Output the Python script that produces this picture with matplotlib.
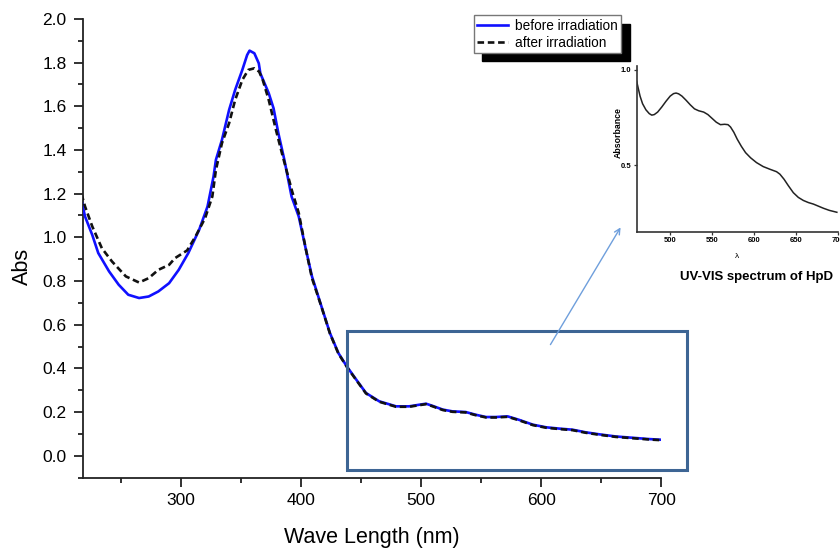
import matplotlib
matplotlib.use("Agg")
import matplotlib.pyplot as plt
from matplotlib.patches import Rectangle, FancyArrowPatch

plt.rcParams['font.family'] = ['Liberation Sans', 'DejaVu Sans']

# ---- data ----
wl_before = [217, 220, 226, 231, 240, 248, 256, 265, 273, 281, 290, 298, 306, 315,
             322, 327, 329, 334, 340, 345, 351, 355, 357, 361, 364.7, 366, 373, 377,
             381, 386, 392, 398, 404, 409, 416, 424, 431, 438, 445, 454, 465, 479,
             490, 498, 504, 509, 518, 526, 537, 545, 554, 562, 572, 581, 593, 604,
             615, 626, 637, 648, 662, 676, 690, 700]
abs_before = [1.170, 1.095, 1.011, 0.928, 0.844, 0.783, 0.737, 0.722, 0.729, 0.752,
              0.790, 0.851, 0.928, 1.034, 1.141, 1.278, 1.355, 1.446, 1.584, 1.675,
              1.767, 1.835, 1.855, 1.843, 1.797, 1.751, 1.660, 1.591, 1.477, 1.355,
              1.187, 1.095, 0.943, 0.821, 0.699, 0.561, 0.470, 0.409, 0.355, 0.287,
              0.249, 0.226, 0.226, 0.233, 0.238, 0.229, 0.211, 0.203, 0.200, 0.188,
              0.177, 0.177, 0.180, 0.165, 0.142, 0.130, 0.124, 0.119, 0.107, 0.098,
              0.088, 0.082, 0.076, 0.073]

wl_after = [217, 220, 226, 234, 242.5, 254, 265, 273, 281, 290, 295, 305, 312, 320,
            326, 329, 334, 340, 345, 351, 356, 361, 365, 368, 373, 379, 384, 392.5,
            398, 404, 409, 416, 424, 431, 438, 445, 454, 465, 479, 490, 498, 504,
            509, 518, 526, 537, 545, 554, 562, 572, 581, 593, 604, 615, 626, 637,
            648, 662, 676, 690, 700]
abs_after = [1.199, 1.141, 1.050, 0.950, 0.889, 0.821, 0.793, 0.813, 0.851, 0.874,
             0.905, 0.940, 1.004, 1.088, 1.187, 1.309, 1.431, 1.523, 1.629, 1.721,
             1.767, 1.774, 1.759, 1.721, 1.629, 1.492, 1.385, 1.210, 1.111, 0.943,
             0.813, 0.697, 0.559, 0.468, 0.407, 0.353, 0.285, 0.247, 0.224, 0.224,
             0.231, 0.236, 0.227, 0.209, 0.201, 0.198, 0.186, 0.175, 0.175, 0.178,
             0.163, 0.140, 0.128, 0.122, 0.117, 0.105, 0.096, 0.086, 0.080, 0.074,
             0.071]

wl_inset = [460, 462, 464, 467, 471, 475, 478, 481, 485, 490, 495, 500, 504, 507,
            510, 514, 519, 524, 529, 534, 540, 545, 550, 555, 560, 565, 569, 572,
            576, 580, 585, 590, 596, 603, 611, 619, 627, 631, 636, 641, 647, 653,
            659, 665, 671, 677, 683, 690, 699]
abs_inset = [0.939, 0.900, 0.862, 0.822, 0.790, 0.770, 0.762, 0.765, 0.778, 0.805,
             0.835, 0.862, 0.875, 0.878, 0.874, 0.862, 0.840, 0.816, 0.795, 0.785,
             0.778, 0.765, 0.745, 0.725, 0.712, 0.714, 0.712, 0.700, 0.672, 0.636,
             0.598, 0.565, 0.538, 0.513, 0.492, 0.478, 0.465, 0.452, 0.425, 0.392,
             0.355, 0.330, 0.314, 0.303, 0.295, 0.284, 0.273, 0.262, 0.252]

series_labels = ["before irradiation", "after irradiation"]
inset_title = "UV-VIS spectrum of HpD"

# ---- figure ----
fig = plt.figure(figsize=(8.4, 5.5), dpi=100)
ax = fig.add_axes([0.0984, 0.1318, 0.6889, 0.8337])

ax.plot(wl_before, abs_before, color='#1010ff', lw=1.9, label=series_labels[0], zorder=3)
ax.plot(wl_after, abs_after, color='#111111', lw=1.9, ls=(0, (2.5, 1.4)),
        label=series_labels[1], zorder=4)

ax.set_xlim(218, 700)
ax.set_ylim(-0.1, 2.0)
ax.set_xticks([300, 400, 500, 600, 700])
ax.set_xticks([250, 350, 450, 550, 650], minor=True)
ax.set_yticks([0.0, 0.2, 0.4, 0.6, 0.8, 1.0, 1.2, 1.4, 1.6, 1.8, 2.0])
ax.set_yticks([i / 10 + 0.1 for i in range(-2, 20, 2)], minor=True)
ax.set_yticklabels([f"{v:.1f}" for v in ax.get_yticks()])
for s in ['top', 'right']:
    ax.spines[s].set_visible(False)
for s in ['left', 'bottom']:
    ax.spines[s].set_linewidth(1.3)
    ax.spines[s].set_color('#222222')
ax.tick_params(which='major', length=6.5, width=1.3, labelsize=12.5, pad=5, color='#222222')
ax.tick_params(which='minor', length=3.3, width=1.3, color='#222222')

ax.set_xlabel("Wave Length (nm)", fontsize=15.5)
ax.set_ylabel("Abs", fontsize=15.5)
ax.xaxis.set_label_coords(0.5, -0.108)
ax.yaxis.set_label_coords(-0.086, 0.46)

# highlight rectangle
ax.add_patch(Rectangle((438.3, -0.067), 721.7 - 438.3, 0.572 + 0.067, fill=False,
                       edgecolor='#3d6594', lw=2.2, clip_on=False, zorder=5))

# legend
leg = ax.legend(loc='upper left', bbox_to_anchor=(0.564, 0.972), bbox_transform=fig.transFigure,
                fontsize=9.8, frameon=True, fancybox=False, handlelength=2.3,
                handletextpad=0.5, borderpad=0.25, labelspacing=0.2, borderaxespad=0,
                shadow={'ox': 6, 'oy': -6, 'facecolor': 'black', 'edgecolor': 'black', 'alpha': 1})
leg.get_frame().set_edgecolor('#777777')
leg.get_frame().set_linewidth(1.0)

# arrow
fig.add_artist(FancyArrowPatch(
    (549 / 840, 1 - 347 / 550), (622 / 840, 1 - 225 / 550), transform=fig.transFigure,
    arrowstyle='->', mutation_scale=10, color='#6f9fdc', lw=1.0))

# inset
ins = fig.add_axes([636.7 / 840, 1 - 231.7 / 550, 201 / 840, 165.7 / 550])
ins.plot(wl_inset, abs_inset, color='#222222', lw=1.1)
ins.set_xlim(460, 700)
ins.set_ylim(0.15, 1.02)
ins.set_xticks([500, 550, 600, 650, 700])
ins.set_yticks([0.5, 1.0])
ins.set_yticklabels(["0.5", "1.0"])
for s in ['top', 'right']:
    ins.spines[s].set_visible(False)
for s in ['left', 'bottom']:
    ins.spines[s].set_linewidth(1.2)
    ins.spines[s].set_color('#333333')
ins.tick_params(length=2.5, width=0.9, labelsize=5.5, pad=1.5, color='#333333')
for t in ins.get_xticklabels() + ins.get_yticklabels():
    t.set_fontweight('bold')
ins.set_xlabel("λ", fontsize=6)
ins.set_ylabel("Absorbance", fontsize=6.3, fontweight='bold')
ins.xaxis.set_label_coords(0.5, -0.13)
ins.yaxis.set_label_coords(-0.07, 0.6)
fig.text(757 / 840, 1 - 277 / 550, inset_title, ha='center', va='center', fontsize=9.5,
         fontweight='bold', family=['Liberation Sans Narrow', 'Liberation Sans', 'DejaVu Sans'])

fig.savefig("out.png", dpi=100)
